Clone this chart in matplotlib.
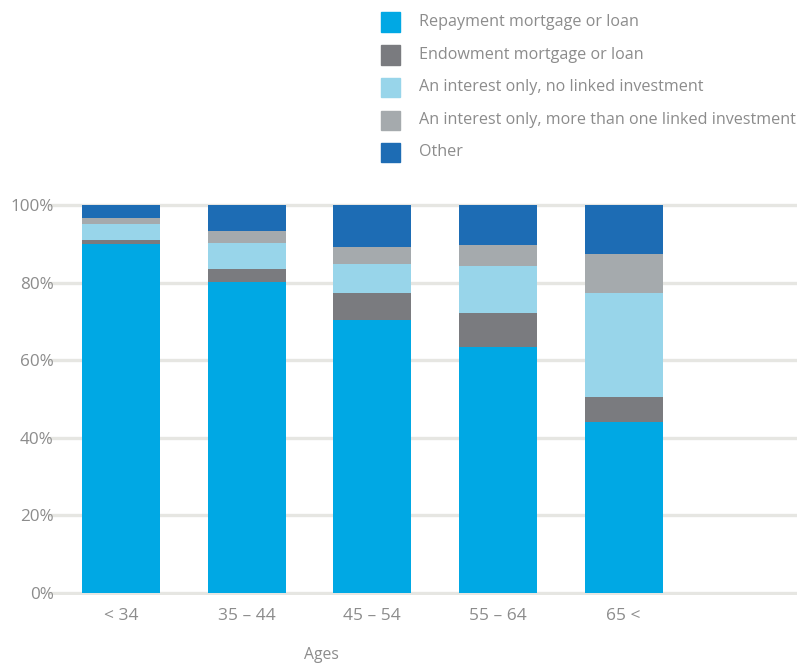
import matplotlib
matplotlib.use("Agg")
import matplotlib.pyplot as plt
from matplotlib.patches import Rectangle
import numpy as np

categories = ["< 34", "35 – 44", "45 – 54", "55 – 64", "65 <"]
series_names = [
    "Repayment mortgage or loan",
    "Endowment mortgage or loan",
    "An interest only, no linked investment",
    "An interest only, more than one linked investment",
    "Other",
]
repayment = [89.9, 80.3, 70.5, 63.3, 44.1]
endowment = [1.0, 3.3, 6.9, 9.0, 6.5]
interest_no_link = [4.3, 6.7, 7.3, 12.1, 26.8]
interest_multi_link = [1.6, 3.1, 4.4, 5.4, 10.1]
other = [3.2, 6.6, 10.9, 10.2, 12.5]
yticks = [0, 20, 40, 60, 80, 100]
ytick_labels = ["0%", "20%", "40%", "60%", "80%", "100%"]
xlabel = "Ages"

colors = ["#00a8e4", "#7a7b7f", "#98d5ea", "#a5aaad", "#1d6cb4"]
text_color = "#8c8c8c"
font = "Open Sans"

plt.rcParams["font.family"] = [font, "DejaVu Sans"]

fig = plt.figure(figsize=(8.07, 6.65), dpi=100)
W, H = 807, 665
ax = fig.add_axes([48 / W, 1 - 595 / H, (797 - 48) / W, (595 - 202) / H])

x = np.arange(len(categories))
data = [repayment, endowment, interest_no_link, interest_multi_link, other]
bottom = np.zeros(len(categories))
for vals, c, name in zip(data, colors, series_names):
    ax.bar(x, vals, width=0.62, bottom=bottom, color=c, label=name, zorder=3, linewidth=0)
    bottom += np.array(vals)

ax.set_xlim(-0.58, 5.38)
ax.set_ylim(-0.5, 100.8)
ax.set_yticks(yticks)
ax.set_yticklabels(ytick_labels, fontsize=12.3)
ax.set_xticks(x)
ax.set_xticklabels(categories, fontsize=12.5)
ax.tick_params(axis="both", length=0, colors=text_color)
ax.tick_params(axis="x", pad=9)
ax.tick_params(axis="y", pad=-4)
ax.yaxis.grid(True, color="#e6e6e2", linewidth=2.4, zorder=0)
ax.set_axisbelow(True)
for s in ax.spines.values():
    s.set_visible(False)

fig.text(321 / W, 1 - 655 / H, xlabel, ha="center", va="center", fontsize=11.3, color=text_color)

# legend
row_y = [22, 55, 87, 120, 152]
for name, c, yy in zip(series_names, colors, row_y):
    fig.patches.append(Rectangle((381 / W, 1 - (yy + 9.5) / H), 19 / W, 19 / H,
                                 transform=fig.transFigure, color=c, figure=fig))
    fig.text(419 / W, 1 - yy / H, name, ha="left", va="center", fontsize=11.6, color=text_color)

fig.savefig("out.png", dpi=100)
